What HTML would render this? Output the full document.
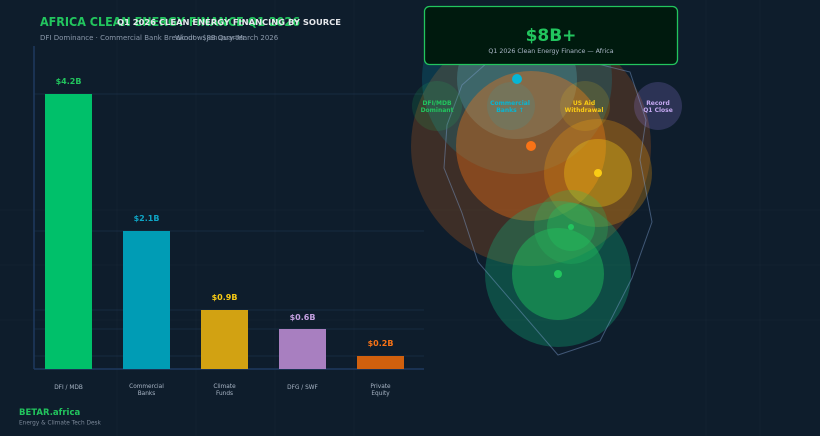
<!DOCTYPE html>
<html><head><meta charset="utf-8"><style>
html,body{margin:0;padding:0;background:#0e1d2c;}
svg{display:block;}
text{font-family:"DejaVu Sans","Liberation Sans",sans-serif;}
</style></head><body>
<svg width="820" height="436" viewBox="0 0 820 436" xmlns="http://www.w3.org/2000/svg">
<rect width="820" height="436" fill="#0e1d2c"/>
<!-- faint background grid -->
<g stroke="#ffffff" stroke-opacity="0.02" stroke-width="1">
<line x1="117" y1="0" x2="117" y2="436"/><line x1="196" y1="0" x2="196" y2="436"/>
<line x1="275" y1="0" x2="275" y2="436"/><line x1="354" y1="0" x2="354" y2="436"/>
<line x1="706" y1="0" x2="706" y2="436"/><line x1="760" y1="0" x2="760" y2="436"/>
<line x1="0" y1="210" x2="820" y2="210"/><line x1="0" y1="265" x2="820" y2="265"/>
<line x1="0" y1="320" x2="820" y2="320"/>
</g>
<!-- chart gridlines -->
<g stroke="#1b3048" stroke-width="0.8">
<line x1="34" y1="94" x2="424" y2="94"/>
<line x1="34" y1="231" x2="424" y2="231"/>
<line x1="34" y1="310" x2="424" y2="310"/>
<line x1="34" y1="329" x2="424" y2="329"/>
<line x1="34" y1="356" x2="424" y2="356"/>
</g>
<!-- axes -->
<line x1="34" y1="46" x2="34" y2="369" stroke="#1e3a5f" stroke-width="1.5"/>
<line x1="34" y1="369" x2="424" y2="369" stroke="#1e3a5f" stroke-width="1.5"/>
<!-- bars -->
<rect x="45" y="94" width="47" height="275" fill="#00c06a"/>
<rect x="123" y="231" width="47" height="138" fill="#009cb5"/>
<rect x="201" y="310" width="47" height="59" fill="#d2a212"/>
<rect x="279" y="329" width="47" height="40" fill="#a87fc0"/>
<rect x="357" y="356" width="47" height="13" fill="#d0600e"/>
<!-- value labels -->
<g font-size="8" font-weight="bold" text-anchor="middle">
<text x="68.5" y="84" fill="#22c55e">$4.2B</text>
<text x="146.5" y="221" fill="#0ea5c5">$2.1B</text>
<text x="224.5" y="300" fill="#facc15">$0.9B</text>
<text x="302.5" y="320" fill="#c4a0e0">$0.6B</text>
<text x="380.5" y="346" fill="#f97316">$0.2B</text>
</g>
<!-- category labels -->
<g font-size="5.8" fill="#a9b6c6" text-anchor="middle">
<text x="68.5" y="389">DFI / MDB</text>
<text x="146.5" y="388">Commercial</text><text x="146.5" y="395">Banks</text>
<text x="224.5" y="388">Climate</text><text x="224.5" y="395">Funds</text>
<text x="302.5" y="389">DFG / SWF</text>
<text x="380.5" y="388">Private</text><text x="380.5" y="395">Equity</text>
</g>
<!-- titles -->
<text x="40" y="26" font-size="12.5" font-weight="bold" fill="#22c55e" textLength="260" lengthAdjust="spacingAndGlyphs">AFRICA CLEAN ENERGY FINANCE Q1 2026</text>
<text x="117" y="25" font-size="8.2" font-weight="bold" fill="#e5e7eb" textLength="224" lengthAdjust="spacingAndGlyphs">Q1 2026 CLEAN ENERGY FINANCING BY SOURCE</text>
<text x="40" y="40" font-size="7" fill="#8a98aa">DFI Dominance · Commercial Bank Breakout · $8B Quarter</text>
<text x="175" y="40" font-size="7" fill="#8a98aa">Window: January–March 2026</text>
<!-- footer -->
<text x="19" y="415" font-size="8.5" font-weight="bold" fill="#22c55e">BETAR.africa</text>
<text x="19" y="424.5" font-size="5.8" fill="#7b8898">Energy &amp; Climate Tech Desk</text>

<!-- bubble map -->
<g>
<circle cx="531" cy="146" r="120" fill="#f97316" fill-opacity="0.2"/>
<circle cx="517" cy="79" r="95" fill="#06b6d4" fill-opacity="0.18"/>
<circle cx="517" cy="79" r="60" fill="#67e8f9" fill-opacity="0.2"/>
<circle cx="531" cy="146" r="75" fill="#f97316" fill-opacity="0.38"/>
<circle cx="598" cy="173" r="54" fill="#f59e0b" fill-opacity="0.28"/>
<circle cx="598" cy="173" r="34" fill="#facc15" fill-opacity="0.35"/>
<circle cx="558" cy="274" r="73" fill="#10b981" fill-opacity="0.3"/>
<circle cx="558" cy="274" r="46" fill="#22c55e" fill-opacity="0.45"/>
<circle cx="571" cy="227" r="37" fill="#22c55e" fill-opacity="0.25"/>
<circle cx="571" cy="227" r="24" fill="#22c55e" fill-opacity="0.35"/>
<polygon points="488,62 462,85 447,125 444,168 462,213 478,262 558,355 600,341 632,278 652,222 640,160 646,120 630,72 590,62" fill="none" stroke="#7fa0d0" stroke-opacity="0.45" stroke-width="1"/>
<!-- label circles -->
<circle cx="437" cy="106" r="25" fill="#22c55e" fill-opacity="0.15"/>
<circle cx="511" cy="106" r="24" fill="#06b6d4" fill-opacity="0.12"/>
<circle cx="585" cy="106" r="25" fill="#facc15" fill-opacity="0.15"/>
<circle cx="658" cy="106" r="24" fill="#a78bfa" fill-opacity="0.2"/>
<!-- dots -->
<circle cx="517" cy="79" r="5" fill="#06b6d4"/>
<circle cx="531" cy="146" r="5" fill="#f97316"/>
<circle cx="598" cy="173" r="4" fill="#facc15"/>
<circle cx="571" cy="227" r="3" fill="#22c55e"/>
<circle cx="558" cy="274" r="4" fill="#22c55e"/>
<g font-size="6" font-weight="bold" text-anchor="middle">
<text x="437" y="105" fill="#22c55e">DFI/MDB</text><text x="437" y="112" fill="#22c55e">Dominant</text>
<text x="510" y="105" fill="#06b6d4">Commercial</text><text x="510" y="112" fill="#06b6d4">Banks ↑</text>
<text x="584" y="105" fill="#facc15">US Aid</text><text x="584" y="112" fill="#facc15">Withdrawal</text>
<text x="658" y="105" fill="#c4a8f0">Record</text><text x="658" y="112" fill="#c4a8f0">Q1 Close</text>
</g>
</g>
<!-- mask above box -->
<rect x="405" y="0" width="290" height="6" fill="#0e1d2c"/>
<!-- callout box -->
<rect x="424.5" y="6.5" width="253" height="58" rx="5" fill="#001a0e" stroke="#22c55e" stroke-width="1.3"/>
<text x="551" y="41" font-size="17" font-weight="bold" fill="#22c55e" text-anchor="middle">$8B+</text>
<text x="551" y="53" font-size="6.3" fill="#a9b6c6" text-anchor="middle">Q1 2026 Clean Energy Finance — Africa</text>
</svg>
</body></html>
